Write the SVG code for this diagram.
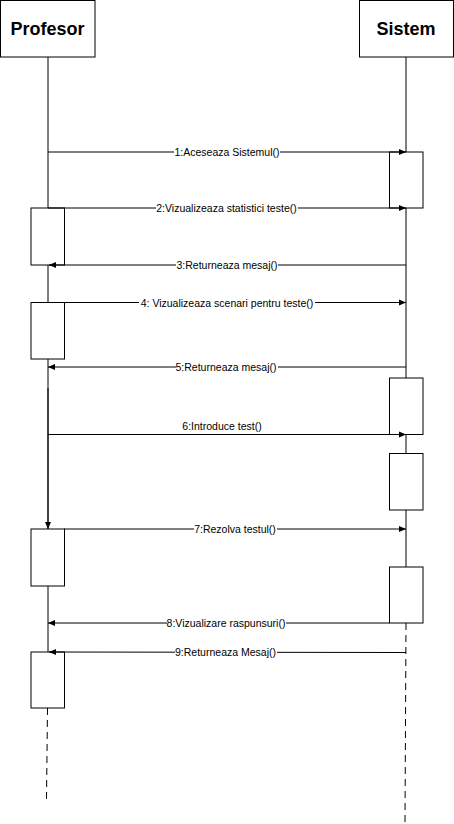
<svg xmlns="http://www.w3.org/2000/svg" width="454" height="824" viewBox="0 0 454 824">
<style>
.box{fill:#fff;stroke:#000;stroke-width:1}
.hdr{font-family:"Liberation Sans",Arial,sans-serif;font-size:18px;font-weight:bold;text-anchor:middle;fill:#000}
.lbl{font-family:"Liberation Sans",Arial,sans-serif;font-size:10.5px;text-anchor:middle;fill:#000}
.bg{fill:#fff}
.msg{stroke:#000;stroke-width:1;fill:none;marker-end:url(#ah)}
.life{stroke:#000;stroke-width:1;fill:none}
.dash{stroke:#000;stroke-width:1;fill:none;stroke-dasharray:7,5}
</style>
<defs>
<marker id="ah" markerWidth="8" markerHeight="8" refX="7" refY="4" orient="auto" markerUnits="userSpaceOnUse">
<path d="M0,1 L7,4 L0,7 Z" fill="#000"/>
</marker>
</defs>
<rect width="454" height="824" fill="#fff"/>
<g id="lifelines">
<line class="life" x1="48" y1="57" x2="48" y2="388"/>
<line class="life" x1="48" y1="586" x2="48" y2="652"/>
<line class="dash" x1="47.5" y1="708" x2="46.5" y2="800"/>
<line class="life" x1="406" y1="57" x2="406" y2="623"/>
<line class="dash" x1="406" y1="623" x2="405" y2="824"/>
</g>
<g id="profesor">
<rect class="box" x="0.5" y="0.5" width="94.5" height="56.5"/>
<text class="hdr" x="47.5" y="35">Profesor</text>
</g>
<g id="sistem">
<rect class="box" x="359.5" y="0.5" width="94" height="56.5"/>
<text class="hdr" x="406" y="35">Sistem</text>
</g>
<g id="activations">
<rect class="box" x="389.5" y="152" width="33.5" height="56"/>
<rect class="box" x="31" y="208" width="33.5" height="57"/>
<rect class="box" x="31" y="302.5" width="33.5" height="56.5"/>
<rect class="box" x="389.5" y="378" width="33.5" height="56.5"/>
<rect class="box" x="389.5" y="453.5" width="33.5" height="56.5"/>
<rect class="box" x="31" y="529" width="33.5" height="57"/>
<rect class="box" x="389.5" y="567" width="33.5" height="56"/>
<rect class="box" x="31" y="652" width="33.5" height="56"/>
</g>
<g id="connectors">
<line class="msg" x1="48" y1="152" x2="406" y2="152"/>
<line class="msg" x1="48" y1="208" x2="406" y2="208"/>
<line class="msg" x1="406" y1="265" x2="49" y2="265"/>
<line class="msg" x1="48" y1="302.5" x2="406" y2="302.5"/>
<line class="msg" x1="406" y1="367" x2="48" y2="367"/>
<line class="msg" x1="48" y1="434.5" x2="406" y2="434.5"/>
<line class="msg" style="stroke-width:1.5" x1="48" y1="388" x2="48" y2="529"/>
<line class="msg" x1="64" y1="529" x2="406" y2="529"/>
<line class="msg" x1="389.5" y1="623" x2="48" y2="623"/>
<line class="msg" x1="406" y1="652.5" x2="49" y2="652"/>
<rect class="bg" x="174" y="146" width="106" height="12"/>
<rect class="bg" x="156" y="202" width="142" height="12"/>
<rect class="bg" x="176" y="259" width="102" height="12"/>
<rect class="bg" x="139" y="296.5" width="176" height="12"/>
<rect class="bg" x="176" y="361" width="102" height="12"/>
<rect class="bg" x="194" y="523" width="83" height="12"/>
<rect class="bg" x="167" y="617" width="119" height="12"/>
<rect class="bg" x="175" y="646" width="102" height="12"/>
<text class="lbl" x="227" y="156">1:Aceseaza Sistemul()</text>
<text class="lbl" x="226.5" y="212">2:Vizualizeaza statistici teste()</text>
<text class="lbl" x="227" y="269">3:Returneaza mesaj()</text>
<text class="lbl" x="227" y="306.5">4: Vizualizeaza scenari pentru teste()</text>
<text class="lbl" x="226" y="371">5:Returneaza mesaj()</text>
<text class="lbl" x="222" y="430">6:Introduce test()</text>
<text class="lbl" x="235" y="533">7:Rezolva testul()</text>
<text class="lbl" x="226" y="627">8:Vizualizare raspunsuri()</text>
<text class="lbl" x="225.5" y="656">9:Returneaza Mesaj()</text>
</g>
</svg>
